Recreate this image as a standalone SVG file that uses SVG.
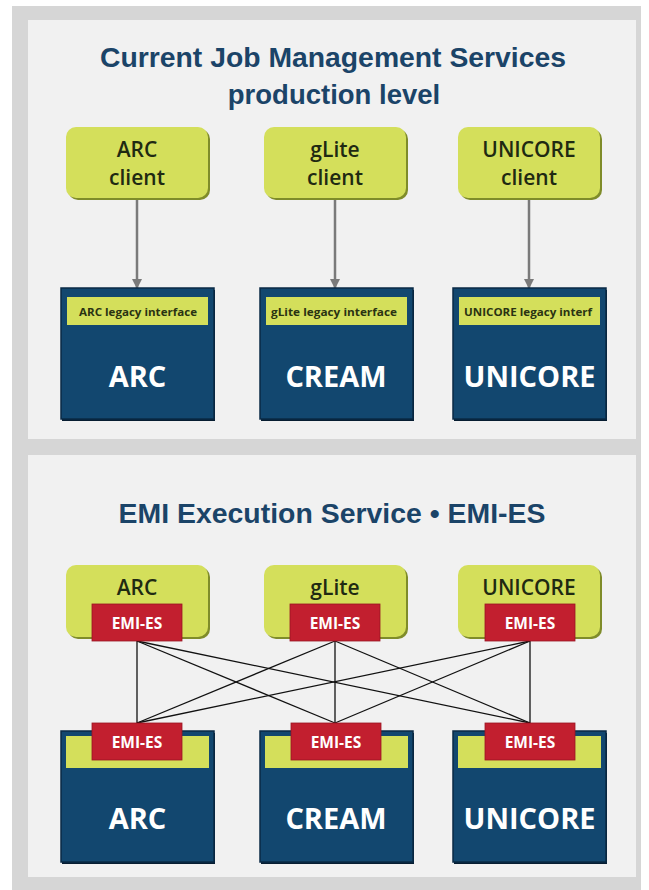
<svg xmlns="http://www.w3.org/2000/svg" width="649" height="890" viewBox="0 0 649 890">
<defs>
<style>
.title{font-family:"Liberation Sans",Arial,sans-serif;font-weight:700;fill:#1b4468;text-anchor:middle}
.cl{fill:#d4df5b}
.clsh{fill:#7f8c2a}
.ct{font-family:"Open Sans","Noto Sans",sans-serif;font-weight:600;font-size:21px;fill:#1f2a12;text-anchor:middle}
.box{fill:#12476f;stroke:#0a2a45;stroke-width:1.5}
.boxsh{fill:#071d31}
.strip{fill:#d4df5b}
.st{font-family:"Open Sans","Noto Sans",sans-serif;font-weight:700;font-size:11px;fill:#2a3312;text-anchor:middle}
.big{font-family:"Open Sans","Noto Sans",sans-serif;font-weight:700;font-size:29px;fill:#ffffff;text-anchor:middle}
.tab{fill:#c21f2f;stroke:#9a1622;stroke-width:0.8}
.tt{font-family:"Open Sans","Noto Sans",sans-serif;font-weight:700;font-size:15.5px;fill:#ffffff;text-anchor:middle}
.arr{stroke:#7a7a7a;stroke-width:2.5;fill:none}
.ln{stroke:#111111;stroke-width:1.3;fill:none}
</style>
<marker id="ah" viewBox="0 0 10 10" refX="9" refY="5" markerWidth="4" markerHeight="4" orient="auto" markerUnits="strokeWidth">
<path d="M0,0 L10,5 L0,10 z" fill="#7a7a7a"/>
</marker>
</defs>
<rect x="0" y="0" width="649" height="890" fill="#ffffff"/>
<rect x="12" y="6" width="629" height="884" fill="#d6d6d6"/>
<rect id="panel-top" x="28" y="20" width="608" height="419" fill="#f1f1f1"/>
<rect id="panel-bottom" x="28" y="455" width="608" height="422" fill="#f1f1f1"/>

<g id="title-top">
<text class="title" x="333" y="67" font-size="27.5" textLength="466" lengthAdjust="spacingAndGlyphs">Current Job Management Services</text>
<text class="title" x="334" y="104" font-size="27.5">production level</text>
</g>
<g id="title-bottom">
<text class="title" x="332" y="523" font-size="27.5" textLength="427" lengthAdjust="spacingAndGlyphs">EMI Execution Service • EMI-ES</text>
</g>

<g id="connectors">
<line class="arr" x1="137" y1="198" x2="137" y2="288" marker-end="url(#ah)"/>
<line class="arr" x1="335" y1="198" x2="335" y2="288" marker-end="url(#ah)"/>
<line class="arr" x1="529" y1="198" x2="529" y2="288" marker-end="url(#ah)"/>
<line class="ln" x1="137" y1="641" x2="137" y2="723"/>
<line class="ln" x1="137" y1="641" x2="335" y2="723"/>
<line class="ln" x1="137" y1="641" x2="530" y2="723"/>
<line class="ln" x1="335" y1="641" x2="137" y2="723"/>
<line class="ln" x1="335" y1="641" x2="335" y2="723"/>
<line class="ln" x1="335" y1="641" x2="530" y2="723"/>
<line class="ln" x1="530" y1="641" x2="137" y2="723"/>
<line class="ln" x1="530" y1="641" x2="335" y2="723"/>
<line class="ln" x1="530" y1="641" x2="530" y2="723"/>
</g>

<g id="arc-client">
<rect class="clsh" x="68" y="129" width="142" height="71" rx="10"/>
<rect class="cl" x="66" y="127" width="142" height="71" rx="10"/>
<text class="ct" x="137" y="157">ARC</text>
<text class="ct" x="137" y="185">client</text>
</g>
<g id="glite-client">
<rect class="clsh" x="266" y="129" width="142" height="71" rx="10"/>
<rect class="cl" x="264" y="127" width="142" height="71" rx="10"/>
<text class="ct" x="335" y="157">gLite</text>
<text class="ct" x="335" y="185">client</text>
</g>
<g id="unicore-client">
<rect class="clsh" x="460" y="129" width="142" height="71" rx="10"/>
<rect class="cl" x="458" y="127" width="142" height="71" rx="10"/>
<text class="ct" x="529" y="157">UNICORE</text>
<text class="ct" x="529" y="185">client</text>
</g>

<g id="arc-legacy">
<rect class="boxsh" x="62" y="290" width="153" height="131"/>
<rect class="box" x="61" y="288" width="153" height="131"/>
<rect class="strip" x="67" y="297" width="141" height="28"/>
<text class="st" x="138" y="316" textLength="118" lengthAdjust="spacingAndGlyphs">ARC legacy interface</text>
<text class="big" x="137.5" y="387">ARC</text>
</g>
<g id="cream-legacy">
<rect class="boxsh" x="261" y="290" width="153" height="131"/>
<rect class="box" x="260" y="288" width="153" height="131"/>
<rect class="strip" x="266" y="297" width="141" height="28"/>
<text class="st" x="334" y="316" textLength="126" lengthAdjust="spacingAndGlyphs">gLite legacy interface</text>
<text class="big" x="336" y="387">CREAM</text>
</g>
<g id="unicore-legacy">
<rect class="boxsh" x="454" y="290" width="153" height="131"/>
<rect class="box" x="453" y="288" width="153" height="131"/>
<rect class="strip" x="459" y="297" width="141" height="28"/>
<text class="st" x="528" y="316" textLength="128" lengthAdjust="spacingAndGlyphs">UNICORE legacy interf</text>
<text class="big" x="529.5" y="387">UNICORE</text>
</g>

<g id="arc-es-client">
<rect class="clsh" x="68" y="567" width="142" height="72" rx="10"/>
<rect class="cl" x="66" y="565" width="142" height="72" rx="10"/>
<text class="ct" x="137" y="595">ARC</text>
<rect class="tab" x="92" y="604" width="90" height="37"/>
<text class="tt" x="137" y="629">EMI-ES</text>
</g>
<g id="glite-es-client">
<rect class="clsh" x="266" y="567" width="142" height="72" rx="10"/>
<rect class="cl" x="264" y="565" width="142" height="72" rx="10"/>
<text class="ct" x="335" y="595">gLite</text>
<rect class="tab" x="290" y="604" width="90" height="37"/>
<text class="tt" x="335" y="629">EMI-ES</text>
</g>
<g id="unicore-es-client">
<rect class="clsh" x="460" y="567" width="142" height="72" rx="10"/>
<rect class="cl" x="458" y="565" width="142" height="72" rx="10"/>
<text class="ct" x="529" y="595">UNICORE</text>
<rect class="tab" x="485" y="604" width="90" height="37"/>
<text class="tt" x="530" y="629">EMI-ES</text>
</g>

<g id="arc-es">
<rect class="boxsh" x="62" y="733" width="153" height="131"/>
<rect class="box" x="61" y="731" width="153" height="131"/>
<rect class="strip" x="66" y="736" width="143" height="32"/>
<rect class="tab" x="92" y="723" width="90" height="37"/>
<text class="tt" x="137" y="748">EMI-ES</text>
<text class="big" x="137.5" y="829">ARC</text>
</g>
<g id="cream-es">
<rect class="boxsh" x="261" y="733" width="153" height="131"/>
<rect class="box" x="260" y="731" width="153" height="131"/>
<rect class="strip" x="265" y="736" width="143" height="32"/>
<rect class="tab" x="291" y="723" width="90" height="37"/>
<text class="tt" x="336" y="748">EMI-ES</text>
<text class="big" x="336" y="829">CREAM</text>
</g>
<g id="unicore-es">
<rect class="boxsh" x="454" y="733" width="153" height="131"/>
<rect class="box" x="453" y="731" width="153" height="131"/>
<rect class="strip" x="458" y="736" width="143" height="32"/>
<rect class="tab" x="485" y="723" width="90" height="37"/>
<text class="tt" x="530" y="748">EMI-ES</text>
<text class="big" x="529.5" y="829">UNICORE</text>
</g>
</svg>
